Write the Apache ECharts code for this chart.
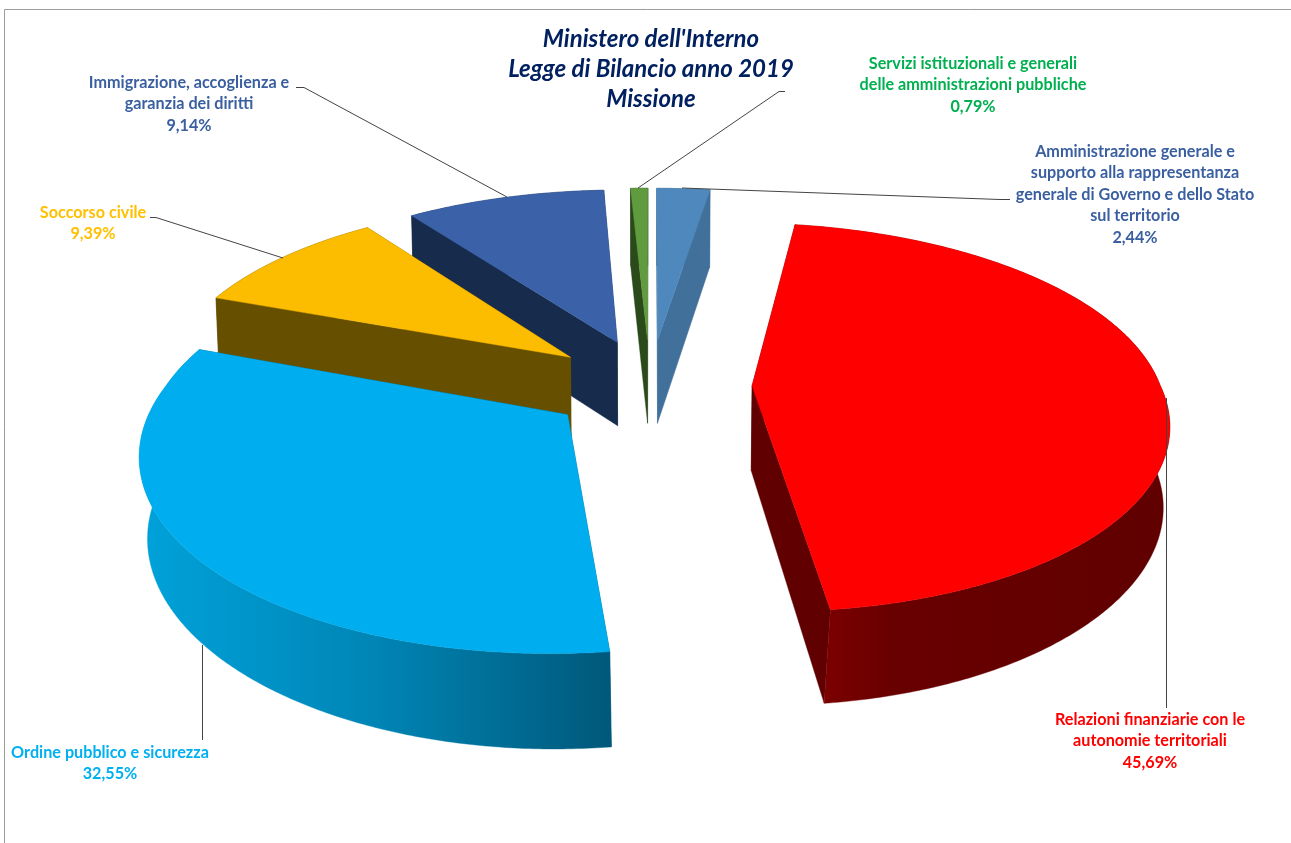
<!DOCTYPE html>
<html><head><meta charset="utf-8">
<style>html,body{margin:0;padding:0;background:#fff}#c{width:1291px;height:843px}</style>
<script src="https://cdn.jsdelivr.net/npm/echarts@6/dist/echarts.min.js"></script>
</head><body><div id="c"></div>
<script>
// ---- data (clockwise from 12 o'clock) ----
const missioni = [
  "Amministrazione generale e\nsupporto alla rappresentanza\ngenerale di Governo e dello Stato\nsul territorio",
  "Relazioni finanziarie con le\nautonomie territoriali",
  "Ordine pubblico e sicurezza",
  "Soccorso civile",
  "Immigrazione, accoglienza e\ngaranzia dei diritti",
  "Servizi istituzionali e generali\ndelle amministrazioni pubbliche"
];
const quote = [2.44, 45.69, 32.55, 9.39, 9.14, 0.79];
const titolo = "Ministero dell'Interno\nLegge di Bilancio anno 2019\nMissione";

// ---- styling ----
const topColors  = ["#4e88bd", "#ff0000", "#00aeef", "#fcbc00", "#3b62a8", "#619b3f"];
const sideColors = ["#41709a", "#600000", "#005a7d", "#665000", "#172b4d", "#2a4a1a"];
const textColors = ["#3a5fa0", "#ff0000", "#00b0f0", "#ffc000", "#3a5fa0", "#00b050"];
const paintOrder = [0, 5, 4, 3, 1, 2];
const labelAnchors = [[1135,151],[1150,719],[110,752],[93,212],[189,82],[973,63]];
const arcGradients = {
  1: [823, 1170, [[0,"#7c0000"],[0.2,"#680000"],[1,"#600000"]]],
  2: [140, 612, [[0,"#00a2da"],[0.5,"#0085b5"],[1,"#00587a"]]]
};
const leaders = [
  [[1010,199.5],[1000,199.5],[682,188]],
  [[1166.5,398],[1166.5,708]],
  [[202.5,645],[202.5,740]],
  [[150,217.5],[156,217.5],[283,258]],
  [[296,87.5],[304,87.5],[507,197]],
  [[785,91.5],[779,91.5],[638,188]]
];
// projection of the pie plane
const CX = 650, CY = 385, AX = 408, BY = 187, K = 0.17, KX_FAR = 0.135, KY_FAR = 0.15, EXPLODE = 0.25, DEPTH = 85;

function project(u, v, drop) {
  const s = 1 / (1 - K * v);
  const sx = v < 0 ? 1 / (1 - KX_FAR * v) : s;
  const sy = v < 0 ? 1 / (1 - KY_FAR * v) : s;
  let x = CX + AX * u * sx;
  let y = CY + BY * v * sy;
  if (drop) {
    y += DEPTH * (1 + (s - 1) * 0.5);
    const c = 0.008 + Math.max(0, s - 1) * 0.13;
    x = CX + (x - CX) * (1 - c);
  }
  return [x, y];
}
const pctText = v => v.toFixed(2).replace('.', ',') + '%';

const starts = [];
quote.reduce((acc, v, i) => { starts[i] = acc; return acc + v; }, 0);
const total = quote.reduce((a, b) => a + b, 0);

function renderSlice(params, api) {
  const i = params.dataIndex;
  const share = api.value(0), start = api.value(1);
  const a0 = start / total * 2 * Math.PI, a1 = (start + share) / total * 2 * Math.PI;
  const mid = (a0 + a1) / 2;
  const ou = EXPLODE * Math.sin(mid), ov = -EXPLODE * Math.cos(mid);
  const n = Math.max(2, Math.ceil((a1 - a0) / 0.01));
  const rim = [], rimLow = [];
  for (let k = 0; k <= n; k++) {
    const t = a0 + (a1 - a0) * k / n;
    const u = ou + Math.sin(t), v = ov - Math.cos(t);
    rim.push(project(u, v, false));
    rimLow.push(project(u, v, true));
  }
  const apex = project(ou, ov, false), apexLow = project(ou, ov, true);
  const order = paintOrder.indexOf(i) * 10;
  const g = arcGradients[i];
  const arcFill = g
    ? new echarts.graphic.LinearGradient(g[0], 0, g[1], 0, g[2].map(s => ({offset: s[0], color: s[1]})), true)
    : sideColors[i];
  const poly = (pts, fill, z) => ({
    type: 'polygon', z2: order + z, shape: {points: pts},
    style: {fill: fill, stroke: fill, lineWidth: 0.4}
  });
  const last = rim.length - 1;
  const children = [
    poly([apex, rim[0], rimLow[0], apexLow], sideColors[i], 0),
    poly([apex, rim[last], rimLow[last], apexLow], sideColors[i], 1),
    poly(rim.concat(rimLow.slice().reverse()), arcFill, 2),
    poly([apex].concat(rim), topColors[i], 3)
  ];
  const anchor = labelAnchors[i];
  children.push({
    type: 'text', z2: 200,
    style: {
      x: anchor[0], y: anchor[1] - 10,
      text: missioni[i] + '\n' + pctText(share),
      fill: textColors[i],
      font: 'bold 16.2px Lato, "Open Sans", sans-serif',
      lineHeight: 21.5, align: 'center', verticalAlign: 'top'
    }
  });
  children.push({
    type: 'polyline', z2: 190, shape: {points: leaders[i]},
    style: {stroke: '#444444', lineWidth: 1, fill: 'none'}
  });
  return {type: 'group', children: children};
}

const chart = echarts.init(document.getElementById('c'), null, {renderer: 'canvas', width: 1291, height: 843});
chart.setOption({
  animation: false,
  backgroundColor: '#ffffff',
  title: {
    text: titolo, left: 646, top: 19, textAlign: 'center',
    textStyle: {
      fontFamily: 'Lato, "Open Sans", sans-serif', fontStyle: 'italic', fontWeight: 'bold',
      fontSize: 24, lineHeight: 30, color: '#002060'
    }
  },
  graphic: [
    {type: 'polyline', silent: true, z: 0, shape: {points: [[4.5, 843], [4.5, 9.5], [1291, 9.5]]},
     style: {stroke: '#9c9c9c', lineWidth: 1, fill: 'none'}}
  ],
  series: [{
    type: 'custom',
    coordinateSystem: 'none',
    renderItem: renderSlice,
    silent: true,
    clip: false,
    data: quote.map((v, i) => ({name: missioni[i], value: [v, starts[i]]}))
  }]
});
</script></body></html>
